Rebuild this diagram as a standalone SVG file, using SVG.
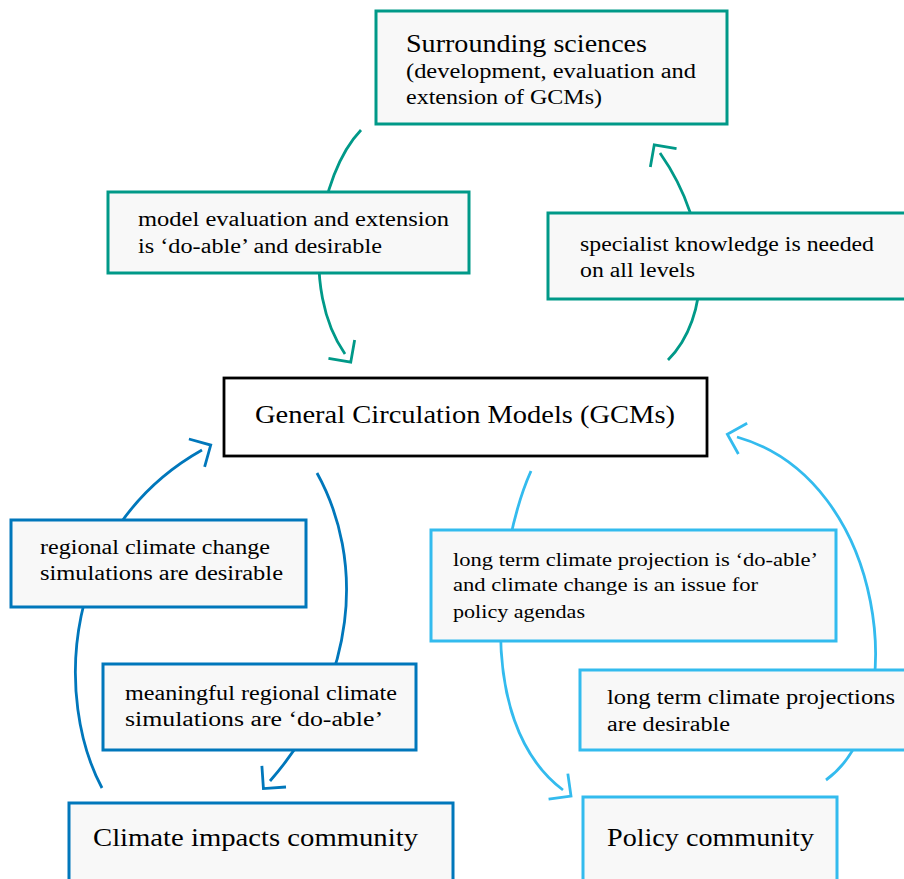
<svg xmlns="http://www.w3.org/2000/svg" width="904" height="879" viewBox="0 0 904 879">
  <style>
    text { font-family: "Liberation Serif", "Times New Roman", serif; fill: #000; }
    .title { font-size: 25px; }
    .label { font-size: 20.5px; }
    .small { font-size: 19.5px; }
    .box { fill: #f8f8f8; stroke-width: 3; }
    .teal { stroke: #009988; }
    .blue { stroke: #0077bb; }
    .cyan { stroke: #33bbee; }
    .link { fill: none; stroke-width: 2.8; stroke-linecap: butt; }
  </style>
  <defs>
    <marker id="head-teal" markerUnits="userSpaceOnUse" markerWidth="44" markerHeight="44" viewBox="-22 -22 44 44" refX="0" refY="0" orient="auto">
      <path d="M-6,-16 L10,0 L-6,16" fill="none" stroke="#009988" stroke-width="2.8"/>
    </marker>
    <marker id="head-blue" markerUnits="userSpaceOnUse" markerWidth="44" markerHeight="44" viewBox="-22 -22 44 44" refX="0" refY="0" orient="auto">
      <path d="M-6,-16 L10,0 L-6,16" fill="none" stroke="#0077bb" stroke-width="2.8"/>
    </marker>
    <marker id="head-cyan" markerUnits="userSpaceOnUse" markerWidth="44" markerHeight="44" viewBox="-22 -22 44 44" refX="0" refY="0" orient="auto">
      <path d="M-6,-16 L10,0 L-6,16" fill="none" stroke="#33bbee" stroke-width="2.8"/>
    </marker>
  </defs>

  <rect width="904" height="879" fill="#ffffff"/>

  <!-- connectors (drawn first, label boxes sit on top of them) -->
  <g id="connectors">
    <path class="link teal" d="M361,130 C318,175 300,290 345,354" marker-end="url(#head-teal)"/>
    <path class="link teal" d="M668,360 C710,318 714,230 660,153" marker-end="url(#head-teal)"/>
    <path class="link blue" d="M102,788 C55,700 60,530 202,450" marker-end="url(#head-blue)"/>
    <path class="link blue" d="M317,473 C365,560 358,680 270,781" marker-end="url(#head-blue)"/>
    <path class="link cyan" d="M531,471 C500,540 470,720 563,790" marker-end="url(#head-cyan)"/>
    <path class="link cyan" d="M826,780 C912,718 888,480 737,437" marker-end="url(#head-cyan)"/>
  </g>

  <g id="surrounding-sciences">
    <rect class="box teal" x="376" y="11" width="351" height="113"/>
    <text class="title" x="406" y="52" textLength="241" lengthAdjust="spacingAndGlyphs">Surrounding sciences</text>
    <text class="label" x="406" y="78" textLength="290" lengthAdjust="spacingAndGlyphs">(development, evaluation and</text>
    <text class="label" x="406" y="104" textLength="196" lengthAdjust="spacingAndGlyphs">extension of GCMs)</text>
  </g>

  <g id="gcm">
    <rect x="224" y="378" width="483" height="78" fill="#ffffff" stroke="#000" stroke-width="2.8"/>
    <text class="title" x="255" y="423" textLength="420" lengthAdjust="spacingAndGlyphs">General Circulation Models (GCMs)</text>
  </g>

  <g id="label-model-evaluation">
    <rect class="box teal" x="108" y="192" width="361" height="81"/>
    <text class="label" x="138" y="226" textLength="311" lengthAdjust="spacingAndGlyphs">model evaluation and extension</text>
    <text class="label" x="138" y="253" textLength="244" lengthAdjust="spacingAndGlyphs">is ‘do-able’ and desirable</text>
  </g>

  <g id="label-specialist">
    <rect class="box teal" x="548" y="213" width="400" height="86"/>
    <text class="label" x="580" y="251" textLength="294" lengthAdjust="spacingAndGlyphs">specialist knowledge is needed</text>
    <text class="label" x="580" y="277" textLength="115" lengthAdjust="spacingAndGlyphs">on all levels</text>
  </g>

  <g id="label-regional-desirable">
    <rect class="box blue" x="11" y="520" width="295" height="87"/>
    <text class="label" x="40" y="554" textLength="230" lengthAdjust="spacingAndGlyphs">regional climate change</text>
    <text class="label" x="40" y="580" textLength="243" lengthAdjust="spacingAndGlyphs">simulations are desirable</text>
  </g>

  <g id="label-regional-doable">
    <rect class="box blue" x="103" y="664" width="313" height="86"/>
    <text class="label" x="125" y="700" textLength="272" lengthAdjust="spacingAndGlyphs">meaningful regional climate</text>
    <text class="label" x="125" y="726" textLength="258" lengthAdjust="spacingAndGlyphs">simulations are ‘do-able’</text>
  </g>

  <g id="label-projection-doable">
    <rect class="box cyan" x="431" y="530" width="405" height="111" stroke-width="3.4"/>
    <text class="small" x="453" y="566" textLength="365" lengthAdjust="spacingAndGlyphs">long term climate projection is ‘do-able’</text>
    <text class="small" x="453" y="591" textLength="305" lengthAdjust="spacingAndGlyphs">and climate change is an issue for</text>
    <text class="small" x="453" y="618" textLength="132" lengthAdjust="spacingAndGlyphs">policy agendas</text>
  </g>

  <g id="label-projection-desirable">
    <rect class="box cyan" x="580" y="670" width="340" height="80"/>
    <text class="label" x="607" y="704" textLength="288" lengthAdjust="spacingAndGlyphs">long term climate projections</text>
    <text class="label" x="607" y="731" textLength="123" lengthAdjust="spacingAndGlyphs">are desirable</text>
  </g>

  <g id="impacts-community">
    <rect class="box blue" x="69" y="803" width="384" height="100"/>
    <text class="title" x="93" y="846" textLength="325" lengthAdjust="spacingAndGlyphs">Climate impacts community</text>
  </g>

  <g id="policy-community">
    <rect class="box cyan" x="583" y="797" width="254" height="100"/>
    <text class="title" x="607" y="846" textLength="207" lengthAdjust="spacingAndGlyphs">Policy community</text>
  </g>
</svg>
